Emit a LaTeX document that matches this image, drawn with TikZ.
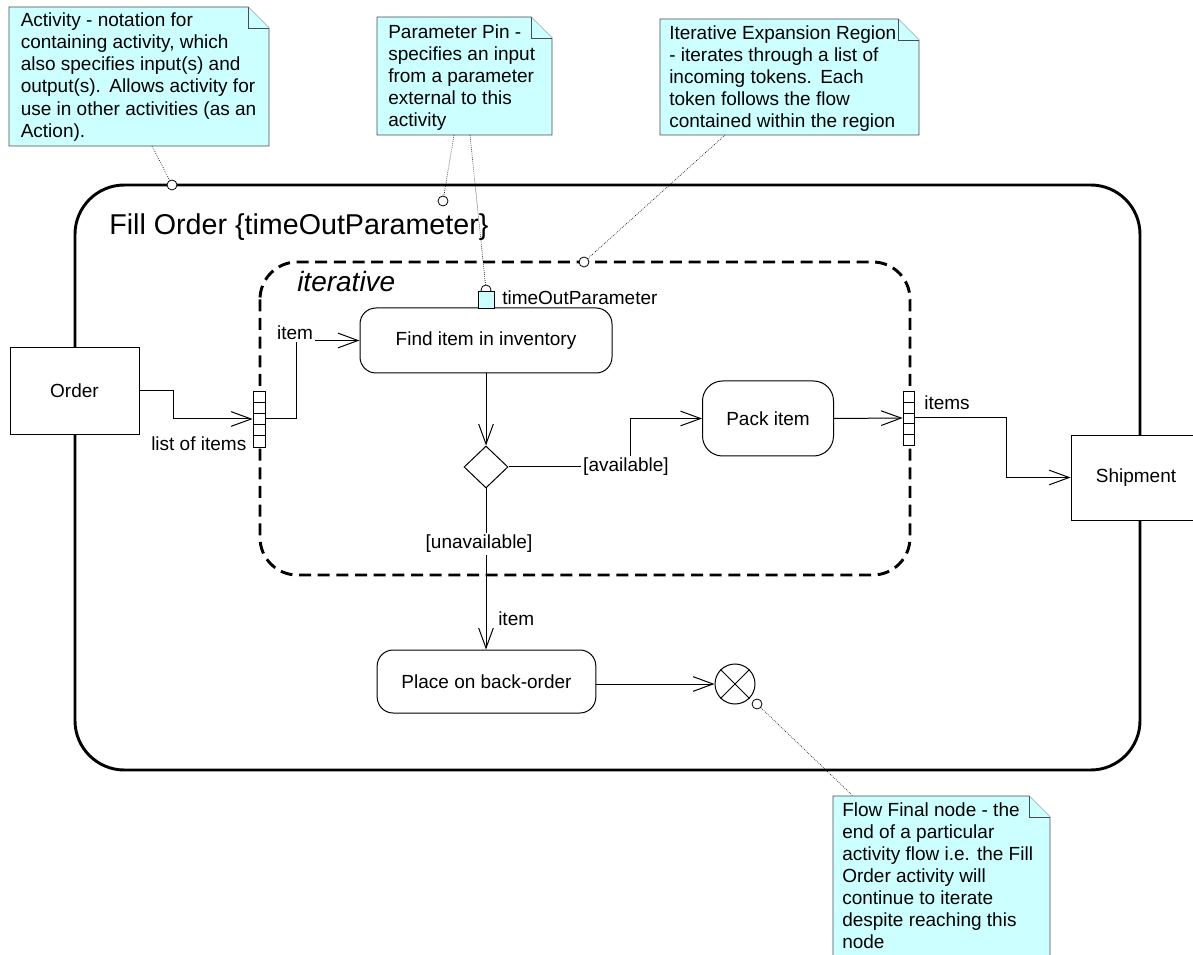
\documentclass[tikz,border=0pt]{standalone}
\usepackage{fontspec}
\setmainfont{Liberation Sans}
\usetikzlibrary{arrows.meta,shapes.geometric,calc}
\definecolor{notecyan}{HTML}{CCFFFF}
\newcommand\drawnote[4]{%
  \filldraw[note] (#1,#2) -- ({#3-21},#2) -- (#3,{#2+21}) -- (#3,#4) -- (#1,#4) -- cycle;
  \filldraw[note] ({#3-21},#2) -- ({#3-21},{#2+21}) -- (#3,{#2+21});
}
\begin{document}
\begin{tikzpicture}[x=0.75pt,y=-0.75pt,
  every node/.style={font=\fontsize{14.25pt}{16.6pt}\selectfont},
  box/.style={draw, fill=white, line width=0.6pt, inner sep=0pt},
  action/.style={draw, fill=white, rounded corners=12pt, line width=0.75pt, inner sep=0pt},
  flow/.style={line width=0.75pt, -{Straight Barb[length=15pt,width=11pt]}},
  lbl/.style={fill=white, inner sep=1.5pt},
  note/.style={draw=black!70, fill=notecyan, line width=0.6pt},
  notetext/.style={anchor=north west, inner sep=0pt, align=left},
  anchorpt/.style={circle, draw, fill=white, minimum size=7.5pt, inner sep=0pt, line width=0.6pt},
  noteline/.style={densely dotted, line width=0.5pt}]

\useasboundingbox (0,0) rectangle (1193,955);

% notes
\drawnote{9}{7}{269}{146}
\node[notetext] (n1) at (20.5,12.5) {Activity - notation for\\containing activity, which\\also specifies input(s) and\\output(s).\ \,Allows activity for\\use in other activities (as an\\Action).};
\drawnote{377}{17}{552}{135}
\node[notetext] (n2) at (388,24) {Parameter Pin -\\specifies an input\\from a parameter\\external to this\\activity};
\drawnote{660}{19}{919}{135}
\node[notetext] (n3) at (669,25) {Iterative Expansion Region\\- iterates through a list of\\incoming tokens.\ \,Each\\token follows the flow\\contained within the region};
\drawnote{833}{796}{1050}{975}
\node[notetext] (n4) at (842,802) {Flow Final node - the\\end of a particular\\activity flow i.e. the Fill\\Order activity will\\continue to iterate\\despite reaching this\\node};

\coordinate (n1b) at (152,146);
\coordinate (n2b) at (454,135);
\coordinate (n2c) at (470,135);
\coordinate (n3b) at (725,135);
\coordinate (n4t) at (853,796);

% frames
\draw[line width=2.2pt, rounded corners=37pt] (75,185) rectangle (1140,770);
\draw[line width=2.2pt, dash pattern=on 9pt off 5pt, rounded corners=28pt] (260,262) rectangle (910,575);

\node[anchor=base west, inner sep=0pt, font=\fontsize{21.5pt}{24pt}\selectfont] (title) at (109,235) {Fill Order \{timeOutParameter\}};
\node[anchor=base west, inner sep=0pt, font=\fontsize{21pt}{24pt}\selectfont\itshape] (iter) at (297,292) {iterative};

% object nodes
\node[box, minimum width=96.75pt, minimum height=65.25pt] (order) at (74.5,390.5) {Order};
\node[box, minimum width=97.5pt, minimum height=63.75pt] (ship) at (1136,477.5) {Shipment};

% actions
\node[action, minimum width=189pt, minimum height=48.75pt] (find) at (486,340.5) {Find item in inventory};
\node[action, rounded corners=15pt, minimum width=98.25pt, minimum height=56.25pt] (pack) at (768,418.5) {Pack item};
\node[action, minimum width=164pt, minimum height=47.25pt] (place) at (486.5,681.5) {Place on back-order};
\node[diamond, draw, fill=white, minimum width=33pt, minimum height=31.5pt, inner sep=0pt, line width=0.75pt] (dec) at (486,467) {};
\node[circle, draw, fill=white, minimum size=30pt, inner sep=0pt, line width=0.75pt] (fin) at (735,684) {};
\draw[line width=0.75pt] (fin.north west) -- (fin.south east) (fin.north east) -- (fin.south west);

% pins
\node[box, minimum width=9pt, minimum height=42pt] (pinL) at (259,419) {};
\foreach \yy in {402,413,424,435} \draw[line width=0.6pt] (253,\yy) -- (265,\yy);
\node[box, minimum width=8.25pt, minimum height=40.5pt] (pinR) at (908.5,418) {};
\foreach \yy in {402,413,423,434} \draw[line width=0.6pt] (903,\yy) -- (914,\yy);

% parameter pin
\node[anchorpt] (pinTop) at (486,290) {};
\node[draw, fill=notecyan, minimum width=12pt, minimum height=12.75pt, inner sep=0pt, line width=0.6pt] (ppin) at (486,299.5) {};
\node[anchor=west, inner sep=0pt] (ppinlbl) at (502,298) {timeOutParameter};

% flows
\draw[flow] (order.east) -- ++(34,0) |- (pinL.west);
\draw[flow] (pinL.east) -- ++(31,0) |- (find.west);
\draw[flow] (find.south) -- (dec.north);
\draw[flow] (dec.east) -- ++(122,0) |- (pack.west);
\draw[flow] (pack.east) -- (pinR.west);
\draw[flow] (pinR.east) -- ++(92,0) |- (ship.west);
\draw[flow] (dec.south) -- (dec.south |- place.north);
\draw[flow] (place.east |- fin.west) -- (fin.west);

% labels
\node[lbl] (l1) at (295,333) {item};
\node[lbl, anchor=west] (l2) at (149,444) {list of items\hspace{9pt}};
\node[lbl] (l3) at (947,403) {items};
\node[lbl] (l4) at (626,467) {[available]};
\node[lbl] (l5) at (479,544) {[unavailable]};
\node[lbl, anchor=west] (l6) at (496,619) {item};

% anchor points and note links
\node[anchorpt] (a1) at (172,185) {};
\node[anchorpt] (a2) at (443,201) {};
\node[anchorpt] (a3) at (584,262) {};
\node[anchorpt] (a4) at (757,704) {};
\draw[noteline] (n1b) -- (a1);
\draw[noteline] (n2b) -- (a2);
\draw[noteline] (n2c) -- (pinTop);
\draw[noteline] (n3b) -- (a3);
\draw[noteline] (a4) -- (n4t);
\end{tikzpicture}
\end{document}
